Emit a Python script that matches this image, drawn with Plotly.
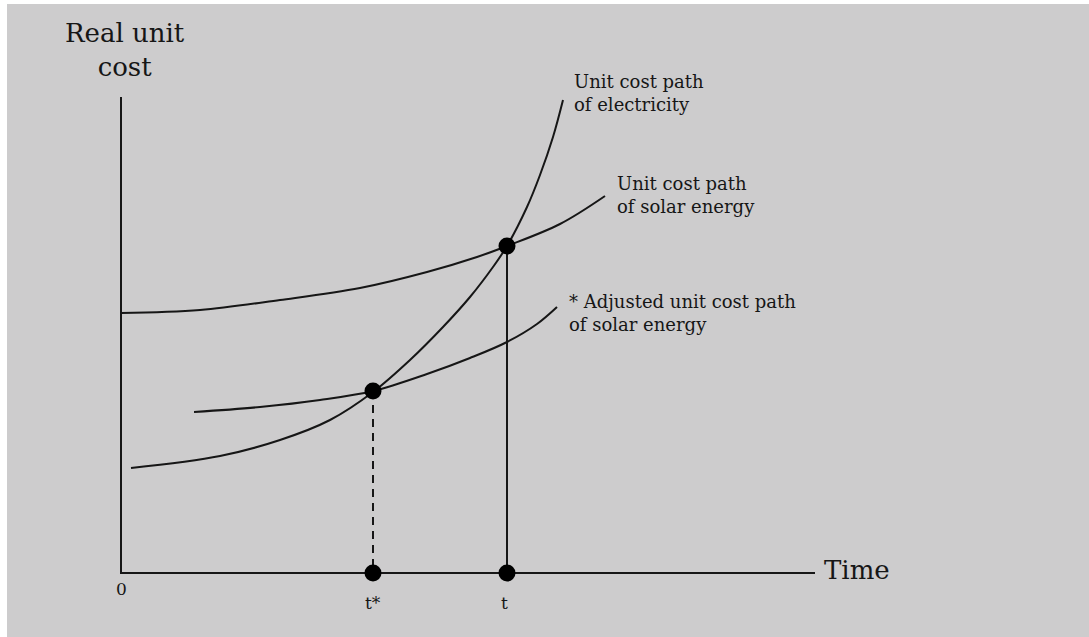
import plotly.graph_objects as go

# curves (time, real unit cost) in arbitrary units
elec_t = [1.0, 9.9, 15.9, 20.9, 25.2, 28.9, 32.2, 34.9, 37.2, 38.6, 40.6, 41.9, 43.2, 44.2]
elec_c = [10.5, 11.7, 13.3, 15.3, 18.1, 21.3, 24.6, 27.6, 30.6, 32.7, 36.6, 39.8, 43.6, 47.3]

solar_t = [0.0, 7.9, 15.9, 23.9, 30.6, 35.6, 38.6, 43.9, 48.4]
solar_c = [26.0, 26.3, 27.3, 28.5, 30.1, 31.6, 32.7, 34.9, 37.7]

adj_t = [7.3, 13.9, 19.9, 25.2, 30.6, 34.9, 38.6, 41.6, 43.6]
adj_c = [16.1, 16.6, 17.3, 18.2, 19.9, 21.5, 23.1, 24.9, 26.6]

t_star = 25.2
t_cross = 38.6
c_star = 18.2
c_cross = 32.7
axis_x_end = 69.4
axis_y_end = 47.6

ink = "#161616"
serif = "DejaVu Serif"

fig = go.Figure()

# axes
fig.add_trace(go.Scatter(x=[0, 0, axis_x_end], y=[axis_y_end, 0, 0], mode="lines",
                         line=dict(color=ink, width=2), hoverinfo="skip"))

# cost paths
for xs, ys in [(elec_t, elec_c), (solar_t, solar_c), (adj_t, adj_c)]:
    fig.add_trace(go.Scatter(x=xs, y=ys, mode="lines",
                             line=dict(color=ink, width=2, shape="spline", smoothing=1.0)))

# drop lines
fig.add_trace(go.Scatter(x=[t_cross, t_cross], y=[c_cross, 0], mode="lines",
                         line=dict(color=ink, width=2)))
fig.add_trace(go.Scatter(x=[t_star, t_star], y=[c_star, 0], mode="lines",
                         line=dict(color=ink, width=2, dash="8px,6px")))

# intersection dots
fig.add_trace(go.Scatter(x=[t_star, t_cross, t_star, t_cross], y=[c_star, c_cross, 0, 0],
                         mode="markers", marker=dict(color="black", size=17)))

labels = [
    (0.4, 52.3, "Real unit<br>cost", 26, "center"),
    (45.1, 48.0, "Unit cost path<br>of electricity", 18, "left"),
    (49.4, 37.8, "Unit cost path<br>of solar energy", 18, "left"),
    (44.6, 26.0, "* Adjusted unit cost path<br>of solar energy", 18, "left"),
    (0.0, -1.6, "0", 17, "center"),
    (t_star, -3.0, "t*", 17, "center"),
    (t_cross - 0.3, -3.0, "t", 17, "center"),
    (70.1, 0.3, "Time", 26, "left"),
]
for x, y, txt, size, anchor in labels:
    fig.add_annotation(x=x, y=y, text=txt, showarrow=False, xanchor=anchor,
                       yanchor="middle", align=anchor,
                       font=dict(family=serif, size=size, color=ink))

fig.update_layout(
    width=1089, height=637,
    margin=dict(l=0, r=0, t=0, b=0),
    paper_bgcolor="white",
    plot_bgcolor="#cdcccd",
    showlegend=False,
    hovermode=False,
    xaxis=dict(range=[-11.4, 96.8], domain=[7 / 1089, 1], visible=False, fixedrange=True),
    yaxis=dict(range=[-6.4, 56.9], domain=[0, 1 - 4 / 637], visible=False, fixedrange=True),
)

fig.write_html("out.html", config={"displayModeBar": False},
               post_script="document.body.style.margin = '0px';")
